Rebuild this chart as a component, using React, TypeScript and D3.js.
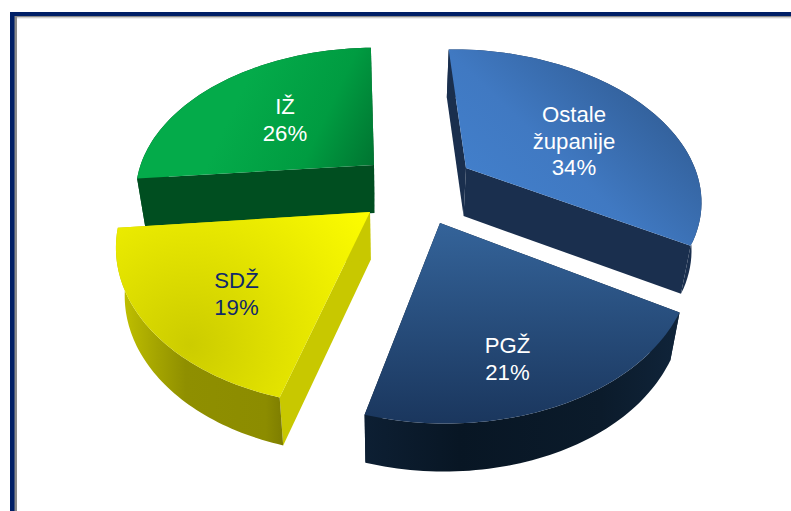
import React from 'react';
import * as d3 from 'd3';

const categories = ['Ostale županije', 'PGŽ', 'SDŽ', 'IŽ'];
const shares = [34, 21, 19, 26];
const labelLines = [['Ostale', 'županije', '34%'], ['PGŽ', '21%'], ['SDŽ', '19%'], ['IŽ', '26%']];
const labelColors = ['#ffffff', '#ffffff', '#10296b', '#ffffff'];

// layout of the exploded slices, in the order of categories
const apexes = [[466, 168], [440, 223], [370, 212], [374, 165]];
const labelPos = [[574, 122], [507.5, 353], [236.5, 288], [285, 114]];
const drawOrder = [3, 0, 2, 1];

const faceColors = ['#1a2f4e', '#0d1f33', '#c8c800', '#004e20'];

const W = 791;
const H = 511;
const CX = 430;
const CY = 195;
const RX = 240;
const RY = 150;
const PERSP = 0.19; // how fast the far side of the pie shrinks
const TILT = 0.033; // the pie leans down to the right
const SKEW = 0.045; // and its near side drifts to the left
const DEPTH = 48;
const VANISH_X = 390;
const BOTTOM_SCALE = 0.968;

const START = (-5 * Math.PI) / 180;

const pie = d3.pie<number>().sort(null).startAngle(START).endAngle(START + 2 * Math.PI);
const line = d3.line().curve(d3.curveLinearClosed);

// ground offset of a slice, found back from where its apex sits on screen
function groundOffset(i: number) {
  const v = (CY - apexes[i][1]) / RY;
  const s = 1 - PERSP * v;
  return { ox: (apexes[i][0] - CX) / (RX * s), oy: v / s };
}

function project(i: number, a: number): [number, number] {
  const { ox, oy } = groundOffset(i);
  const X = ox + Math.sin(a);
  const Y = oy + Math.cos(a);
  const s = 1 / (1 + PERSP * Y);
  const x = CX + RX * X * s;
  const y = CY - RY * Y * s + TILT * (x - apexes[i][0]);
  return [x - SKEW * (y - apexes[i][1]), y];
}

const lower = (p: [number, number]): [number, number] => [
  VANISH_X + (p[0] - VANISH_X) * BOTTOM_SCALE,
  p[1] + DEPTH,
];

export default function App() {
  const arcs = pie(shares);
  const apexOf = (i: number) => apexes[i] as [number, number];

  return (
    <svg width={W} height={H} style={{ position: 'fixed', left: 0, top: 0 }} fontFamily="'Liberation Sans', Arial, sans-serif">
      <defs>
        <linearGradient id="top0" gradientUnits="userSpaceOnUse" x1={490} y1={200} x2={610} y2={75}>
          <stop offset="0" stopColor="#427fcb" />
          <stop offset="0.45" stopColor="#4079c2" />
          <stop offset="1" stopColor="#34639f" />
        </linearGradient>
        <linearGradient id="top1" gradientUnits="userSpaceOnUse" x1={0} y1={225} x2={0} y2={425}>
          <stop offset="0" stopColor="#346399" />
          <stop offset="1" stopColor="#1a365d" />
        </linearGradient>
        <radialGradient id="top2" gradientUnits="userSpaceOnUse" cx={190} cy={345} r={230}>
          <stop offset="0" stopColor="#cccc00" />
          <stop offset="0.5" stopColor="#e6e600" />
          <stop offset="1" stopColor="#ffff00" />
        </radialGradient>
        <linearGradient id="top3" gradientUnits="userSpaceOnUse" x1={235} y1={105} x2={378} y2={172}>
          <stop offset="0" stopColor="#04ab4a" />
          <stop offset="0.55" stopColor="#009c41" />
          <stop offset="1" stopColor="#00702f" />
        </linearGradient>
        <linearGradient id="wall0" gradientUnits="userSpaceOnUse" x1={660} y1={0} x2={705} y2={0}>
          <stop offset="0" stopColor="#1a2f4e" />
          <stop offset="1" stopColor="#1a2f4e" />
        </linearGradient>
        <linearGradient id="wall1" gradientUnits="userSpaceOnUse" x1={365} y1={0} x2={680} y2={0}>
          <stop offset="0" stopColor="#0d1f33" />
          <stop offset="0.3" stopColor="#081624" />
          <stop offset="0.75" stopColor="#0b1b2b" />
          <stop offset="1" stopColor="#10243a" />
        </linearGradient>
        <linearGradient id="wall2" gradientUnits="userSpaceOnUse" x1={125} y1={0} x2={285} y2={0}>
          <stop offset="0" stopColor="#bebe00" />
          <stop offset="0.2" stopColor="#a4a400" />
          <stop offset="0.38" stopColor="#8f8f00" />
          <stop offset="0.88" stopColor="#8c8c00" />
          <stop offset="1" stopColor="#7c7c00" />
        </linearGradient>
        <linearGradient id="wall3" gradientUnits="userSpaceOnUse" x1={130} y1={0} x2={160} y2={0}>
          <stop offset="0" stopColor="#004e20" />
          <stop offset="1" stopColor="#004e20" />
        </linearGradient>
      </defs>

      <rect width={W} height={H} fill="#ffffff" />
      <rect x={14} y={16} width={W - 14} height={1.5} fill="#8a8a8a" />
      <rect x={17} y={17.5} width={W - 17} height={1} fill="#dddddd" />
      <rect x={14} y={16} width={3} height={H - 16} fill="#8a8a8a" />
      <rect x={10} y={12} width={W - 10} height={4} fill="#001f66" />
      <rect x={10} y={12} width={4.5} height={H - 12} fill="#001f66" />

      {drawOrder.map(i => {
        const { startAngle, endAngle } = arcs[i];
        const angles = d3.range(0, 61).map(k => startAngle + ((endAngle - startAngle) * k) / 60);
        const rim = angles.map(a => project(i, a));
        const apex = apexOf(i);
        const cut = (p: [number, number]) => line([apex, p, lower(p), lower(apex)]) as string;
        return (
          <g key={categories[i]}>
            <path d={cut(rim[0])} fill={faceColors[i]} />
            <path d={cut(rim[60])} fill={faceColors[i]} />
            <path d={line([...rim, ...rim.map(lower).reverse()]) as string} fill={`url(#wall${i})`} />
            <path d={line([apex, ...rim]) as string} fill={`url(#top${i})`} />
          </g>
        );
      })}

      {labelLines.map((lines, i) => (
        <text key={categories[i]} textAnchor="middle" fontSize={22.2} fill={labelColors[i]}>
          {lines.map((t, j) => (
            <tspan key={t} x={labelPos[i][0]} y={labelPos[i][1] + j * 26.5}>{t}</tspan>
          ))}
        </text>
      ))}
    </svg>
  );
}
